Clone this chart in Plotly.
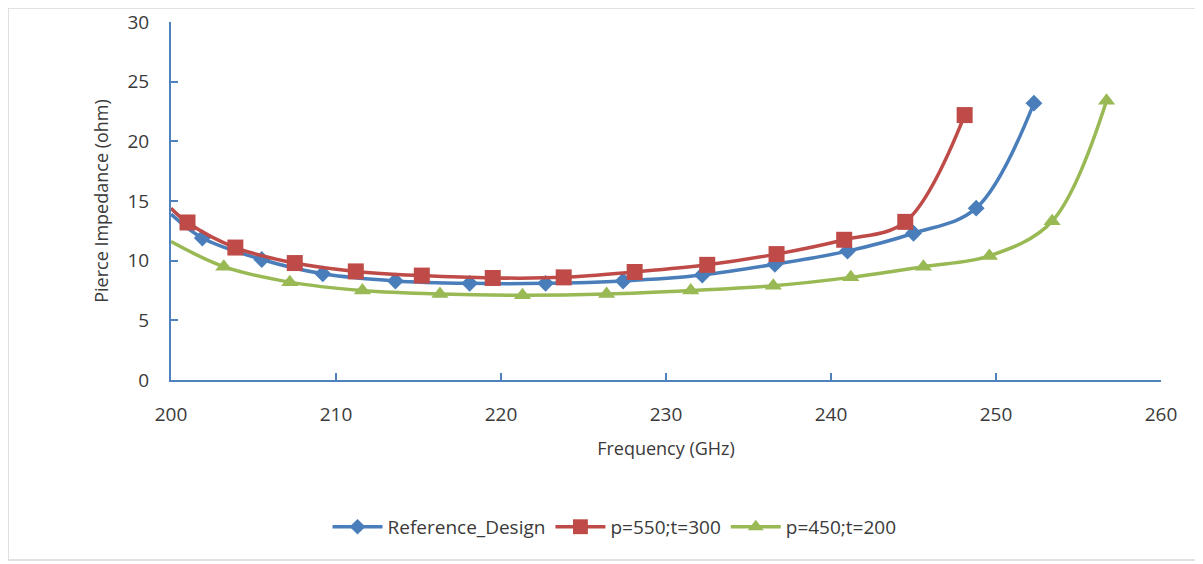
import plotly.graph_objects as go

# Data
ref_x = [200.0, 201.9, 205.5, 209.2, 213.6, 218.1, 222.7, 227.4, 232.2, 236.6, 241.0, 245.0, 248.8, 252.3]
ref_y = [13.9, 11.9, 10.1, 8.9, 8.3, 8.1, 8.1, 8.3, 8.8, 9.7, 10.8, 12.3, 14.4, 23.2]

p550_x = [200.0, 201.0, 203.9, 207.5, 211.2, 215.2, 219.5, 223.8, 228.1, 232.5, 236.7, 240.8, 244.5, 248.1]
p550_y = [14.4, 13.2, 11.1, 9.8, 9.1, 8.75, 8.55, 8.6, 9.05, 9.65, 10.55, 11.75, 13.25, 22.2]

p450_x = [200.0, 203.2, 207.2, 211.6, 216.3, 221.3, 226.4, 231.5, 236.5, 241.2, 245.6, 249.6, 253.4, 256.7]
p450_y = [11.6, 9.5, 8.2, 7.5, 7.2, 7.1, 7.2, 7.5, 7.9, 8.6, 9.5, 10.4, 13.3, 23.4]

names = ["Reference_Design", "p=550;t=300", "p=450;t=200"]
x_ticks = [200, 210, 220, 230, 240, 250, 260]
y_ticks = [0, 5, 10, 15, 20, 25, 30]

BLUE = "#4A7EBB"
RED = "#BE4B48"
GREEN = "#98B954"
AXIS = "#4F81BD"
TXT = "#3A3A3A"

fig = go.Figure()

def add(xs, ys, name, color, symbol, size):
    sizes = [0] + [size] * (len(xs) - 1)
    fig.add_trace(go.Scatter(
        x=xs, y=ys, name=name, mode="lines+markers",
        line=dict(color=color, width=3.5, shape="spline", smoothing=1.0),
        marker=dict(color=color, symbol=symbol, size=sizes, opacity=1,
                    line=dict(width=0)),
    ))

add(ref_x, ref_y, names[0], BLUE, "diamond", 13)
add(p550_x, p550_y, names[1], RED, "square", 16)
add(p450_x, p450_y, names[2], GREEN, "triangle-up", 15)

fig.update_layout(
    width=1203, height=564,
    paper_bgcolor="white", plot_bgcolor="white",
    margin=dict(l=163, r=50, t=14, b=192, autoexpand=False),
    font=dict(family="Open Sans, Liberation Sans, sans-serif", color=TXT),
    showlegend=True,
    legend=dict(orientation="h", x=0.448, xanchor="center",
                yref="container", y=0.08, yanchor="middle",
                font=dict(size=19, color=TXT), itemwidth=50, tracegroupgap=0),
    xaxis=dict(range=[200, 260], tickvals=x_ticks, ticktext=[str(v) for v in x_ticks],
               showgrid=False, zeroline=False, showline=True, linecolor=AXIS, linewidth=2,
               ticks="inside", ticklen=7, tickcolor=AXIS, tickwidth=1.5,
               tickfont=dict(size=19, color=TXT), ticklabelstandoff=16,
               title=dict(text="Frequency (GHz)", font=dict(size=18, color=TXT), standoff=17)),
    yaxis=dict(range=[0, 30], tickvals=y_ticks, showgrid=False, zeroline=False,
               showline=True, linecolor=AXIS, linewidth=2,
               ticks="inside", ticklen=7, tickcolor=AXIS, tickwidth=1.5,
               tickfont=dict(size=19, color=TXT), ticklabelstandoff=16,
               title=dict(text="Pierce Impedance (ohm)", font=dict(size=18, color=TXT), standoff=14)),
    shapes=[dict(type="rect", xref="paper", yref="paper",
                 x0=-0.1646, x1=1.036, y0=-0.503, y1=1.039,
                 line=dict(color="#D9D9D9", width=1.5), fillcolor="rgba(0,0,0,0)", layer="below")],
)

fig.write_html("out.html")
